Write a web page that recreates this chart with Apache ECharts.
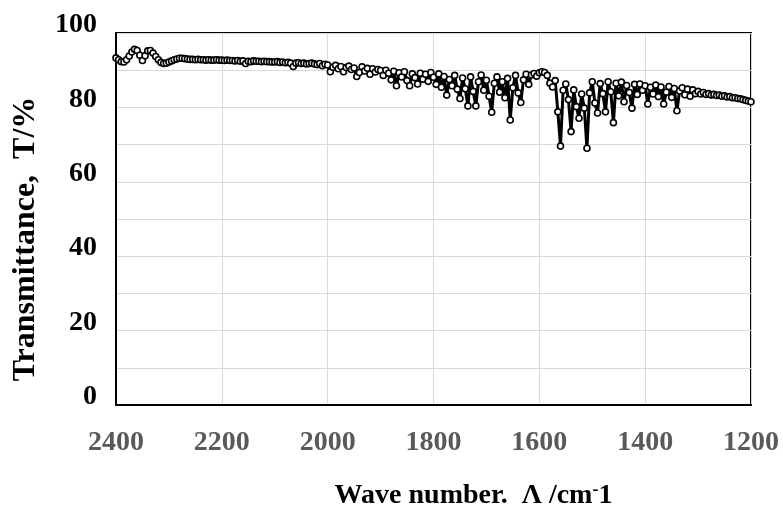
<!DOCTYPE html>
<html>
<head>
<meta charset="utf-8">
<script src="https://cdn.jsdelivr.net/npm/echarts@6/dist/echarts.min.js"></script>
<style>
  html, body { margin: 0; padding: 0; background: #fff; }
  #chart { width: 783px; height: 507px; }
</style>
</head>
<body>
<div id="chart"></div>
<script>
// wave numbers (cm-1), sampled every 5 from 2400 down to 1200
const waveNumbers = [
  2400, 2395, 2390, 2385, 2380, 2375, 2370, 2365, 2360, 2355, 2350, 2345, 2340, 2335, 2330, 2325, 2320, 2315, 2310, 2305,
  2300, 2295, 2290, 2285, 2280, 2275, 2270, 2265, 2260, 2255, 2250, 2245, 2240, 2235, 2230, 2225, 2220, 2215, 2210, 2205,
  2200, 2195, 2190, 2185, 2180, 2175, 2170, 2165, 2160, 2155, 2150, 2145, 2140, 2135, 2130, 2125, 2120, 2115, 2110, 2105,
  2100, 2095, 2090, 2085, 2080, 2075, 2070, 2065, 2060, 2055, 2050, 2045, 2040, 2035, 2030, 2025, 2020, 2015, 2010, 2005,
  2000, 1995, 1990, 1985, 1980, 1975, 1970, 1965, 1960, 1955, 1950, 1945, 1940, 1935, 1930, 1925, 1920, 1915, 1910, 1905,
  1900, 1895, 1890, 1885, 1880, 1875, 1870, 1865, 1860, 1855, 1850, 1845, 1840, 1835, 1830, 1825, 1820, 1815, 1810, 1805,
  1800, 1795, 1790, 1785, 1780, 1775, 1770, 1765, 1760, 1755, 1750, 1745, 1740, 1735, 1730, 1725, 1720, 1715, 1710, 1705,
  1700, 1695, 1690, 1685, 1680, 1675, 1670, 1665, 1660, 1655, 1650, 1645, 1640, 1635, 1630, 1625, 1620, 1615, 1610, 1605,
  1600, 1595, 1590, 1585, 1580, 1575, 1570, 1565, 1560, 1555, 1550, 1545, 1540, 1535, 1530, 1525, 1520, 1515, 1510, 1505,
  1500, 1495, 1490, 1485, 1480, 1475, 1470, 1465, 1460, 1455, 1450, 1445, 1440, 1435, 1430, 1425, 1420, 1415, 1410, 1405,
  1400, 1395, 1390, 1385, 1380, 1375, 1370, 1365, 1360, 1355, 1350, 1345, 1340, 1335, 1330, 1325, 1320, 1315, 1310, 1305,
  1300, 1295, 1290, 1285, 1280, 1275, 1270, 1265, 1260, 1255, 1250, 1245, 1240, 1235, 1230, 1225, 1220, 1215, 1210, 1205,
  1200
];

// transmittance (%)
const transmittance = [
  93.3, 92.8, 92.3, 92.2, 92.8, 93.8, 94.9, 95.6, 95.3, 94.0, 92.6, 93.9, 95.2, 95.3, 94.6, 93.7, 92.8, 92.1, 91.8, 91.9,
  92.2, 92.5, 92.8, 93.0, 93.2, 93.2, 93.1, 93.0, 92.9, 92.9, 92.8, 92.9, 92.8, 92.8, 92.7, 92.8, 92.7, 92.7, 92.8, 92.7,
  92.7, 92.6, 92.7, 92.6, 92.6, 92.5, 92.6, 92.4, 92.5, 91.8, 92.4, 92.3, 92.5, 92.4, 92.4, 92.3, 92.4, 92.3, 92.3, 92.2,
  92.2, 92.3, 92.1, 92.2, 92.0, 92.1, 91.9, 91.0, 91.9, 92.0, 91.8, 91.9, 91.7, 91.8, 91.9, 91.7, 91.5, 91.8, 91.2, 91.6,
  91.4, 89.6, 90.8, 91.3, 90.4, 91.0, 89.6, 90.7, 91.1, 90.2, 90.6, 88.3, 89.4, 90.9, 89.8, 90.5, 88.9, 90.4, 89.5, 90.2,
  89.9, 88.6, 90.0, 89.2, 87.4, 89.7, 85.8, 89.3, 88.2, 89.6, 87.2, 85.8, 89.0, 88.0, 86.3, 89.2, 87.6, 88.9, 87.0, 89.4,
  88.1, 86.2, 89.0, 85.4, 88.3, 83.3, 87.5, 85.8, 88.6, 84.9, 82.4, 87.9, 85.0, 80.4, 88.2, 84.3, 80.4, 86.9, 88.7, 84.6,
  87.3, 83.0, 78.7, 86.5, 88.2, 84.1, 86.9, 82.6, 87.8, 76.6, 85.3, 88.6, 83.9, 81.3, 87.4, 88.9, 86.2, 88.7, 89.1, 88.4,
  89.3, 89.6, 89.4, 88.6, 86.5, 85.5, 87.2, 78.8, 69.6, 84.6, 86.3, 82.1, 73.5, 84.7, 80.2, 77.1, 83.6, 79.8, 69.0, 83.9,
  86.9, 81.2, 78.5, 86.4, 83.7, 78.8, 86.9, 84.2, 75.9, 86.5, 83.1, 86.8, 81.5, 85.9, 84.0, 79.8, 86.2, 83.5, 86.3, 84.6,
  85.8, 80.9, 85.4, 83.6, 86.0, 82.9, 85.5, 80.9, 84.1, 85.6, 82.7, 85.1, 79.1, 84.4, 85.3, 83.4, 84.9, 83.0, 84.7, 83.7,
  84.3, 83.6, 84.0, 83.5, 83.7, 83.3, 83.5, 83.2, 83.3, 83.0, 83.1, 82.8, 82.9, 82.6, 82.6, 82.4, 82.3, 82.1, 81.9, 81.7,
  81.5
];

const xMin = 1200, xMax = 2400, xStep = 200;
const yMin = 0, yMax = 100, yStep = 10, yLabelStep = 20;

const serif = "'Liberation Serif', 'Times New Roman', serif";

const chart = echarts.init(document.getElementById('chart'));

chart.setOption({
  animation: false,
  backgroundColor: '#fff',
  grid: {
    left: 116, right: 32, top: 33, bottom: 102,
    outerBoundsMode: 'none',
    show: true,
    borderColor: '#000',
    borderWidth: 2
  },
  xAxis: {
    type: 'value',
    inverse: true,
    min: xMin, max: xMax, interval: xStep,
    axisLine: { show: true, lineStyle: { color: '#000', width: 2 } },
    axisTick: { show: false },
    splitLine: { show: true, lineStyle: { color: '#d9d9d9', width: 1 } },
    axisLabel: {
      color: '#595959',
      fontFamily: serif,
      fontWeight: 'bold',
      fontSize: 28,
      margin: 24,
      formatter: v => String(v)
    },
    name: '{a|Wave number.  Λ /cm}{s|-}{a|1}',
    nameLocation: 'middle',
    nameGap: 76,
    nameTextStyle: {
      padding: [0, 0, 0, 80],
      rich: {
        a: { fontFamily: serif, fontWeight: 'bold', fontSize: 28, color: '#000', lineHeight: 30 },
        s: { fontFamily: serif, fontWeight: 'bold', fontSize: 18, color: '#000', verticalAlign: 'top', lineHeight: 30 }
      }
    }
  },
  yAxis: {
    type: 'value',
    min: yMin, max: yMax, interval: yStep,
    axisLine: { show: true, lineStyle: { color: '#000', width: 2 } },
    axisTick: { show: false },
    splitLine: { show: true, lineStyle: { color: '#d9d9d9', width: 1 } },
    axisLabel: {
      color: '#000',
      fontFamily: serif,
      fontWeight: 'bold',
      fontSize: 28,
      margin: 19,
      verticalAlign: 'bottom',
      lineHeight: 16,
      formatter: v => (v % yLabelStep === 0 ? String(v) : '')
    },
    name: 'Transmittance,  T/%',
    nameLocation: 'middle',
    nameGap: 74,
    nameTextStyle: {
      color: '#000',
      fontFamily: serif,
      fontWeight: 'bold',
      fontSize: 32,
      padding: [0, 40, 0, 0]
    }
  },
  series: [
    {
      type: 'line',
      data: waveNumbers.map((w, i) => [w, transmittance[i]]),
      symbol: 'circle',
      symbolSize: 6,
      showAllSymbol: true,
      lineStyle: { color: '#000', width: 3 },
      itemStyle: { color: '#fff', borderColor: '#000', borderWidth: 1.6 }
    }
  ]
});
</script>
</body>
</html>
